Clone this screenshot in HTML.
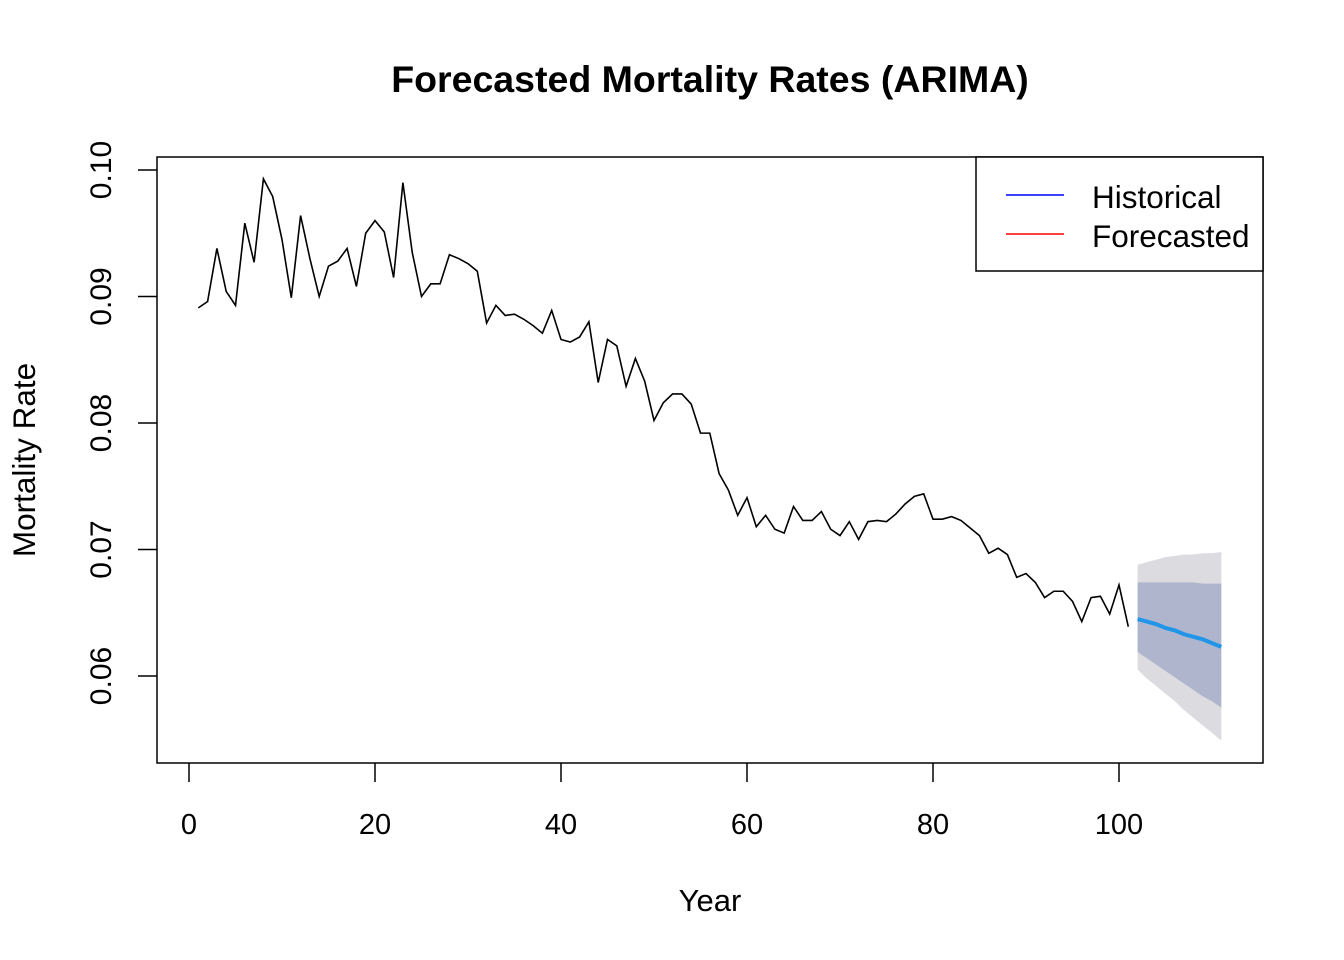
<!DOCTYPE html>
<html><head><meta charset="utf-8"><style>
html,body{margin:0;padding:0;background:#fff;}
svg{display:block;font-family:"Liberation Sans",Arial,sans-serif;}
</style></head><body>
<svg id="chart" width="1344" height="960" viewBox="0 0 1344 960">
<text x="710" y="92" text-anchor="middle" font-size="37.5" font-weight="bold">Forecasted Mortality Rates (ARIMA)</text>
<g id="bands"></g>
<g id="lines"></g>
<rect x="157" y="157" width="1106" height="606" fill="none" stroke="#000" stroke-width="1.5"/>
<g id="axes"></g>
<text x="710" y="911" text-anchor="middle" font-size="31">Year</text>
<text transform="translate(35,460) rotate(-90)" text-anchor="middle" font-size="31.5">Mortality Rate</text>
<g>
<rect x="976" y="157" width="287" height="114" fill="#fff" stroke="#000" stroke-width="1.5"/>
<line x1="1006" y1="195" x2="1064" y2="195" stroke="#0000ff" stroke-width="1.5"/>
<text x="1092" y="208" font-size="31.5">Historical</text>
<line x1="1006" y1="234" x2="1064" y2="234" stroke="#ff0000" stroke-width="1.5"/>
<text x="1092" y="247" font-size="31.5">Forecasted</text>
</g>
</svg>
<script>
const historical = [0.0891,0.0896,0.0938,0.0904,0.0893,0.0958,0.0927,0.0993,0.0979,0.0945,
0.0899,0.0964,0.0930,0.0900,0.0924,0.0928,0.0938,0.0908,0.0950,0.0960,
0.0951,0.0915,0.0990,0.0935,0.0900,0.0910,0.0910,0.0933,0.0930,0.0926,
0.0920,0.0879,0.0893,0.0885,0.0886,0.0882,0.0877,0.0871,0.0889,0.0866,
0.0864,0.0868,0.0880,0.0832,0.0866,0.0861,0.0829,0.0851,0.0833,0.0802,
0.0816,0.0823,0.0823,0.0815,0.0792,0.0792,0.0760,0.0747,0.0727,0.0741,
0.0718,0.0727,0.0716,0.0713,0.0734,0.0723,0.0723,0.0730,0.0716,0.0711,
0.0722,0.0708,0.0722,0.0723,0.0722,0.0728,0.0736,0.0742,0.0744,0.0724,
0.0724,0.0726,0.0723,0.0717,0.0711,0.0697,0.0701,0.0696,0.0678,0.0681,
0.0674,0.0662,0.0667,0.0667,0.0659,0.0643,0.0662,0.0663,0.0649,0.0672,0.0639];
const forecastMean = [0.0645,0.0643,0.0641,0.0638,0.0636,0.0633,0.0631,0.0629,0.0626,0.0623];
const hi80 = [0.0674,0.0674,0.0674,0.0674,0.0674,0.0674,0.0674,0.0673,0.0673,0.0673];
const lo80 = [0.0619,0.0614,0.0609,0.0604,0.0599,0.0594,0.0589,0.0584,0.0580,0.0575];
const hi95 = [0.0688,0.0690,0.0692,0.0694,0.0695,0.0696,0.0696,0.0697,0.0697,0.0698];
const lo95 = [0.0605,0.0598,0.0592,0.0586,0.0580,0.0573,0.0567,0.0561,0.0555,0.0549];
const xTicks = [0,20,40,60,80,100];
const yTicks = [0.06,0.07,0.08,0.09,0.10];
const yTickLabels = ["0.06","0.07","0.08","0.09","0.10"];

const NS="http://www.w3.org/2000/svg";
function xs(t){return 189 + (t)*9.3;}
function ys(v){return 170 + (0.10 - v)*12650;}
function mk(tag,attrs,parent){const e=document.createElementNS(NS,tag);for(const k in attrs)e.setAttribute(k,attrs[k]);parent.appendChild(e);return e;}
const bands=document.getElementById('bands'), lines=document.getElementById('lines'), axes=document.getElementById('axes');
const fStart = historical.length+1;
function band(hi,lo,fill,name){
  let pts=[];
  hi.forEach((v,i)=>pts.push(xs(fStart+i)+','+ys(v)));
  for(let i=lo.length-1;i>=0;i--)pts.push(xs(fStart+i)+','+ys(lo[i]));
  const p=mk('polygon',{points:pts.join(' '),fill:fill},bands);
  
  
}
band(hi95,lo95,'#dbdbe0','band-95');
band(hi80,lo80,'#b0b5ce','band-80');
const hp=mk('polyline',{points:historical.map((v,i)=>xs(i+1)+','+ys(v)).join(' '),fill:'none',stroke:'#000','stroke-width':1.6},lines);


const fp=mk('polyline',{points:forecastMean.map((v,i)=>xs(fStart+i)+','+ys(v)).join(' '),fill:'none',stroke:'#2196e8','stroke-width':4},lines);


xTicks.forEach(t=>{
  const l=mk('line',{x1:xs(t),x2:xs(t),y1:763,y2:782,stroke:'#000','stroke-width':1.5},axes);
  
  
  const tx=mk('text',{x:xs(t),y:834,'text-anchor':'middle','font-size':29},axes);
  tx.textContent=t;
  
  
});
yTicks.forEach((v,i)=>{
  const l=mk('line',{x1:138,x2:157,y1:ys(v),y2:ys(v),stroke:'#000','stroke-width':1.5},axes);
  
  
  const tx=mk('text',{transform:'translate(111,'+ys(v)+') rotate(-90)','text-anchor':'middle','font-size':30},axes);
  tx.textContent=yTickLabels[i];
  
  
});
</script>
</body></html>
